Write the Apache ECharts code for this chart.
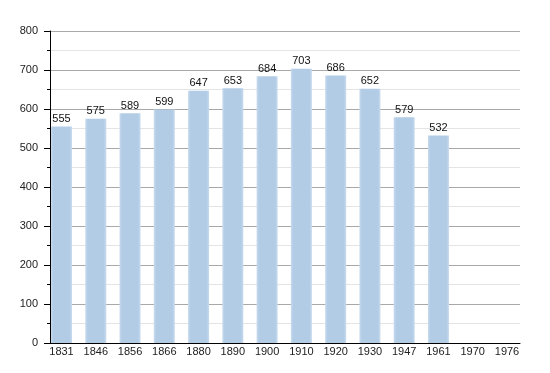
<!DOCTYPE html>
<html>
<head>
<meta charset="utf-8">
<script src="https://cdn.jsdelivr.net/npm/echarts@6/dist/echarts.min.js"></script>
<style>html,body{margin:0;padding:0;background:#fff;}#c{width:550px;height:373px;}</style>
</head>
<body>
<div id="c"></div>
<script>
const years = ['1831','1846','1856','1866','1880','1890','1900','1910','1920','1930','1947','1961','1970','1976'];
const population = [555, 575, 589, 599, 647, 653, 684, 703, 686, 652, 579, 532, null, null];
const yTicks = {min: 0, max: 800, interval: 100};

const chart = echarts.init(document.getElementById('c'), null, {renderer: 'canvas'});
const font = 'Liberation Sans, Arial, sans-serif';
chart.setOption({
  animation: false,
  backgroundColor: '#fff',
  grid: [
    {left: 50, right: 30, top: 31, bottom: 30},
    {left: 61.5, right: 43, top: 31, bottom: 30}
  ],
  xAxis: [
    {gridIndex: 0, type: 'value', min: 0, max: 1,
     axisLine: {show: true, lineStyle: {color: '#000', width: 1}},
     axisTick: {show: false}, axisLabel: {show: false}, splitLine: {show: false}},
    {gridIndex: 1, type: 'category', data: years, boundaryGap: false,
     axisLine: {show: false}, axisTick: {show: false},
     axisLabel: {show: true, interval: 0, margin: 3, color: '#222', fontSize: 11, fontFamily: font},
     splitLine: {show: false}}
  ],
  yAxis: [
    {gridIndex: 0, type: 'value', min: yTicks.min, max: yTicks.max, interval: yTicks.interval,
     axisLine: {show: true, lineStyle: {color: '#000', width: 1}},
     axisTick: {show: true, length: 6, lineStyle: {color: '#000'}},
     minorTick: {show: true, splitNumber: 2, length: 3, lineStyle: {color: '#000'}},
     axisLabel: {color: '#222', fontSize: 11, fontFamily: font, margin: 12},
     splitLine: {show: true, lineStyle: {color: '#a8a8a8', width: 1}},
     minorSplitLine: {show: true, lineStyle: {color: '#e4e4e4', width: 1}}},
    {gridIndex: 1, type: 'value', min: yTicks.min, max: yTicks.max, show: false, splitLine: {show: false}}
  ],
  series: [{
    type: 'bar',
    xAxisIndex: 1, yAxisIndex: 1,
    data: population,
    barWidth: 21,
    itemStyle: {
      color: new echarts.graphic.LinearGradient(0, 0, 1, 0, [
        {offset: 0, color: '#c8dbee'},
        {offset: 0.12, color: '#b2cce6'},
        {offset: 0.88, color: '#b2cce6'},
        {offset: 1, color: '#c8dbee'}
      ])
    },
    label: {show: true, position: 'top', distance: 2, color: '#111', fontSize: 11, fontFamily: font}
  }]
});
</script>
</body>
</html>
